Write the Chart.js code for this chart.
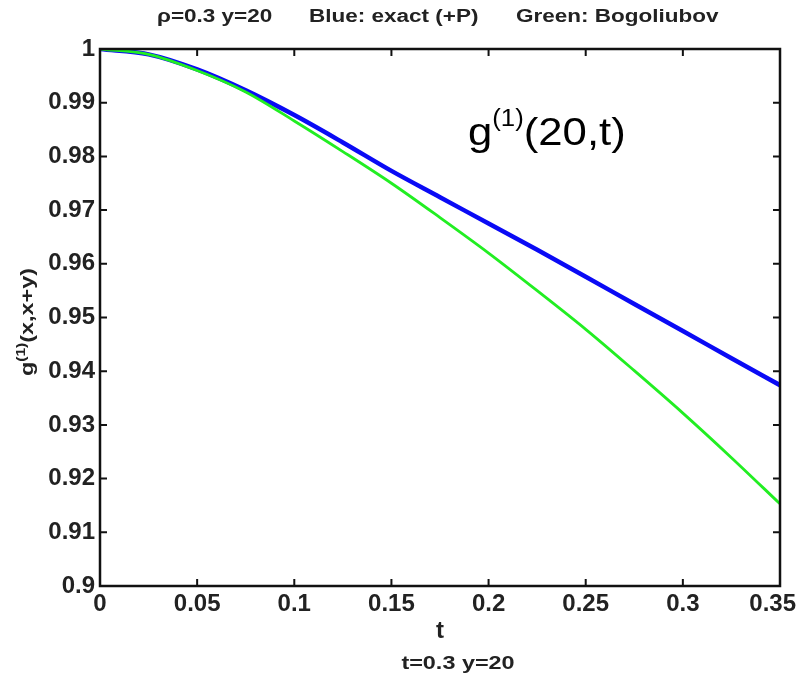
<!DOCTYPE html>
<html>
<head>
<meta charset="utf-8">
<script src="https://cdn.jsdelivr.net/npm/chart.js@4/dist/chart.umd.min.js"></script>
<style>
  html, body { margin: 0; padding: 0; background: #fff; }
  #wrap { width: 811px; height: 683px; }
</style>
</head>
<body>
<div id="wrap"><canvas id="chart" width="811" height="683"></canvas></div>
<script>
const tValues = [0, 0.025, 0.05, 0.075, 0.1, 0.125, 0.15, 0.175, 0.2, 0.225, 0.25, 0.275, 0.3, 0.325, 0.35];
const exactValues = [1.0, 0.9990, 0.9962, 0.9923, 0.9877, 0.9826, 0.9773, 0.9724, 0.9675, 0.9626, 0.9576, 0.9525, 0.9475, 0.9424, 0.9374];
const bogoliubovValues = [1.0, 0.9990, 0.9960, 0.9920, 0.9866, 0.9809, 0.9750, 0.9686, 0.9620, 0.9550, 0.9478, 0.9401, 0.9322, 0.9239, 0.9153];
const xTicks = [0, 0.05, 0.1, 0.15, 0.2, 0.25, 0.3, 0.35];
const yTicks = [0.9, 0.91, 0.92, 0.93, 0.94, 0.95, 0.96, 0.97, 0.98, 0.99, 1];

const titleParts = ['ρ=0.3 y=20', 'Blue: exact (+P)', 'Green: Bogoliubov'];
const xLabel = 't';
const captionText = 't=0.3 y=20';

const FAM = '"Liberation Sans", Arial, sans-serif';
const tickFont = 'bold 24px ' + FAM;

function toPoints(ys) {
    return tValues.map((t, i) => ({ x: t, y: ys[i] }));
}

function fmt(v) {
    return String(Math.round(v * 1000) / 1000);
}

// text stretched horizontally, the source figure was widened a bit
function wideText(ctx, str, x, y, font, sx, align) {
    ctx.save();
    ctx.font = font;
    const w = ctx.measureText(str).width * sx;
    let left = x;
    if (align === 'center') left = x - w / 2;
    ctx.translate(left, y);
    ctx.scale(sx, 1);
    ctx.textAlign = 'left';
    ctx.fillText(str, 0, 0);
    ctx.restore();
    return w;
}

const framePlugin = {
    id: 'frame',
    afterDraw(chart) {
        const ctx = chart.ctx;
        const a = chart.chartArea;
        const xs = chart.scales.x;
        const ys = chart.scales.y;
        ctx.save();
        ctx.strokeStyle = '#111';
        ctx.lineWidth = 2.5;
        ctx.strokeRect(a.left, a.top, a.right - a.left, a.bottom - a.top);

        ctx.lineWidth = 2;
        const len = 7;
        xTicks.forEach(v => {
            const px = xs.getPixelForValue(v);
            ctx.beginPath();
            ctx.moveTo(px, a.bottom); ctx.lineTo(px, a.bottom - len);
            ctx.moveTo(px, a.top); ctx.lineTo(px, a.top + len);
            ctx.stroke();
        });
        yTicks.forEach(v => {
            const py = ys.getPixelForValue(v);
            ctx.beginPath();
            ctx.moveTo(a.left, py); ctx.lineTo(a.left + len, py);
            ctx.moveTo(a.right, py); ctx.lineTo(a.right - len, py);
            ctx.stroke();
        });

        ctx.fillStyle = '#222';
        ctx.font = tickFont;
        ctx.textBaseline = 'middle';
        ctx.textAlign = 'left';
        xTicks.forEach(v => {
            const s = fmt(v);
            const w = ctx.measureText(s).width;
            let left = xs.getPixelForValue(v) - w / 2;
            if (left + w > 796) left = 796 - w;
            ctx.fillText(s, left, a.bottom + 18);
        });
        ctx.textAlign = 'right';
        yTicks.forEach(v => {
            ctx.fillText(fmt(v), a.left - 5, ys.getPixelForValue(v));
        });

        ctx.textAlign = 'center';
        ctx.textBaseline = 'alphabetic';
        ctx.fillText(xLabel, (a.left + a.right) / 2, 638);

        const labFont = 'bold 18px ' + FAM;
        wideText(ctx, captionText, 458, 669, labFont, 1.3, 'center');
        const titleX = [157, 309, 516];
        titleParts.forEach((p, i) => wideText(ctx, p, titleX[i], 22, labFont, 1.25, 'left'));

        // y axis title, rotated
        ctx.save();
        ctx.translate(33, 322);
        ctx.rotate(-Math.PI / 2);
        ctx.scale(1.3, 1);
        ctx.textAlign = 'left';
        ctx.font = labFont;
        const gW = ctx.measureText('g').width;
        ctx.font = 'bold 12px ' + FAM;
        const supW = ctx.measureText('(1)').width;
        ctx.font = labFont;
        const restW = ctx.measureText('(x,x+y)').width;
        const x0 = -(gW + supW + restW) / 2;
        ctx.fillText('g', x0, 0);
        ctx.font = 'bold 12px ' + FAM;
        ctx.fillText('(1)', x0 + gW, -8);
        ctx.font = labFont;
        ctx.fillText('(x,x+y)', x0 + gW + supW, 0);
        ctx.restore();

        // annotation g(1)(20,t)
        ctx.fillStyle = '#000';
        ctx.save();
        ctx.translate(468, 145);
        ctx.scale(1.12, 1);
        ctx.textAlign = 'left';
        ctx.font = '39px ' + FAM;
        let ax = 0;
        ctx.fillText('g', ax, 0);
        ax += ctx.measureText('g').width;
        ctx.font = '23px ' + FAM;
        ctx.fillText('(1)', ax, -19);
        ax += ctx.measureText('(1)').width;
        ctx.font = '39px ' + FAM;
        ctx.fillText('(20,t)', ax, 0);
        ctx.restore();
        ctx.restore();
    }
};

new Chart(document.getElementById('chart'), {
    type: 'line',
    data: {
        datasets: [
            { label: 'Bogoliubov', data: toPoints(bogoliubovValues), borderColor: '#22ee22', borderWidth: 2.8,
              pointRadius: 0, cubicInterpolationMode: 'monotone', fill: false },
            { label: 'exact (+P)', data: toPoints(exactValues), borderColor: '#0a0af5', borderWidth: 4.5,
              pointRadius: 0, cubicInterpolationMode: 'monotone', fill: false }
        ]
    },
    options: {
        responsive: false,
        animation: false,
        layout: { padding: { left: 0, top: 49, right: 31, bottom: 0 } },
        plugins: { legend: { display: false }, tooltip: { enabled: false } },
        scales: {
            x: {
                type: 'linear', min: 0, max: 0.35,
                grid: { display: false }, border: { display: false },
                ticks: { display: false },
                afterFit(scale) { scale.height = 97; }
            },
            y: {
                min: 0.9, max: 1,
                grid: { display: false }, border: { display: false },
                ticks: { display: false },
                afterFit(scale) { scale.width = 100; }
            }
        }
    },
    plugins: [framePlugin]
});
</script>
</body>
</html>
